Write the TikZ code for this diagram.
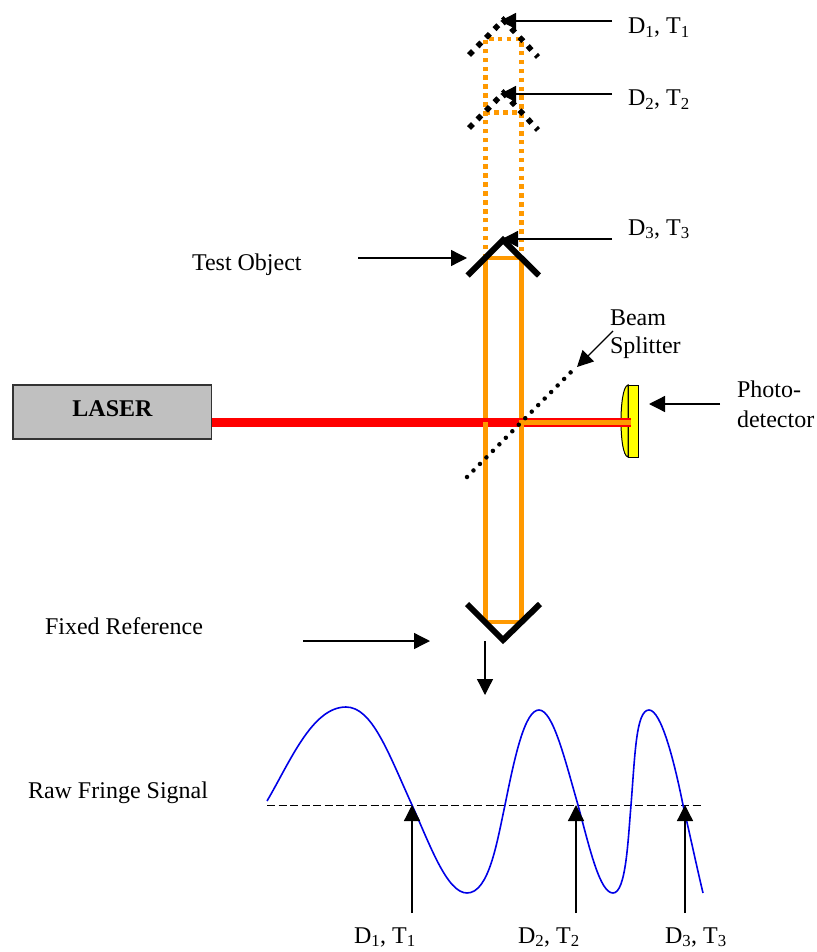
\documentclass[tikz,border=0pt]{standalone}
\usepackage{fontspec}
\setmainfont{Liberation Serif}
\usetikzlibrary{arrows.meta}
\definecolor{beamorange}{RGB}{255,153,0}
\definecolor{beamred}{RGB}{255,0,0}
\definecolor{lasergray}{RGB}{192,192,192}
\definecolor{detyellow}{RGB}{255,255,0}
\definecolor{signalblue}{RGB}{0,0,230}
\newcommand{\DT}[1]{D\textsubscript{#1}, T\textsubscript{#1}}
\tikzset{
  x=1pt,y=-1pt,
  lbl/.style={anchor=base west,inner sep=0pt,outer sep=0pt,font=\fontsize{24}{28}\selectfont},
  pointer/.style={draw=black,line width=1.3pt,-{Triangle[length=16pt,width=16pt]}},
  mirror/.style={draw=black,line width=6pt,line cap=butt,miter limit=10},
  mirrordot/.style={draw=black,line width=5.5pt,dash pattern=on 5.5pt off 6.6pt},
  beam/.style={draw=beamorange,line width=4.5pt},
  beamdot/.style={draw=beamorange,line width=4.5pt,dash pattern=on 4.5pt off 4.4pt},
  splitter/.style={draw=black,line width=4.5pt,line cap=round,dash pattern=on 0pt off 9.2pt},
  signal/.style={draw=signalblue,line width=1.6pt},
}
\begin{document}
\begin{tikzpicture}
\useasboundingbox (0,0) rectangle (816,952);

% beam coordinates
\coordinate (tl) at (485.5,39);
\coordinate (tr) at (521.5,39);
\coordinate (ml) at (485.5,112.5);
\coordinate (mr) at (521.5,112.5);
\coordinate (sl) at (485.5,258);
\coordinate (sr) at (521.5,258);
\coordinate (bl) at (485.5,622);
\coordinate (br) at (521.5,622);
\coordinate (cl) at (485.5,422);
\coordinate (cr) at (521.5,422);

% dotted beam paths
\draw[beamdot] (sl) -- (tl) -- (tr) -- (sr);
\draw[beamdot] (ml) -- (mr);

% solid beam above laser line
\draw[beam] (cl) -- (sl) -- (sr) -- (cr);

% laser box
\node[draw=black!80,line width=1.5pt,fill=lasergray,minimum width=198.5pt,minimum height=54pt,inner sep=0pt] (laser) at (112,412) {};
\node[inner sep=0pt,font=\fontsize{24}{28}\selectfont\bfseries,anchor=base] (lasertext) at (112.5,416) {LASER};

% detector
\coordinate (dettip) at (631,422);
\filldraw[fill=detyellow,draw=black,line width=1pt] (628,385) rectangle (638.7,457);
\filldraw[fill=detyellow,draw=black,line width=1pt] (628,385) .. controls (623,386) and (621,405) .. (621,421) .. controls (621,438) and (623,456) .. (628,457) -- cycle;

% laser beam
\draw[draw=beamred,line width=9pt] (laser.east |- dettip) -- (dettip);
\draw[draw=beamorange,line width=5pt] (519,422) -- (dettip);

% solid beam below laser line
\draw[beam] (cl) -- (bl) -- (br) -- (cr);

% splitter
\coordinate (s1) at (467,477);
\coordinate (s2) at (571,372);
\draw[splitter] (s1) -- (s2);

% mirrors
\draw[mirrordot] (469,55) -- (503.5,20) -- (538,57);
\draw[mirrordot] (469,128) -- (503.5,93) -- (538,130);
\draw[mirror] (467.5,275.5) -- (503,240) -- (539,275.5);
\draw[mirror] (467,604) -- (503,640) -- (540,604);

% labels
\node[lbl] (d1) at (628,34) {\DT{1}};
\node[lbl] (d2) at (628,106) {\DT{2}};
\node[lbl] (d3) at (628,235) {\DT{3}};
\node[lbl] (test) at (192,270) {Test Object};
\node[lbl] (beam1) at (610,325) {Beam};
\node[lbl] (beam2) at (610,353) {Splitter};
\node[lbl] (photo1) at (737,397) {Photo-};
\node[lbl] (photo2) at (737,427) {detector};
\node[lbl] (fixed) at (45,634) {Fixed Reference};
\node[lbl] (raw) at (28,798) {Raw Fringe Signal};
\node[lbl] (b1) at (354,943) {\DT{1}};
\node[lbl] (b2) at (518,943) {\DT{2}};
\node[lbl] (b3) at (665,943) {\DT{3}};

% arrow ends
\coordinate (a1s) at (612,21);   \coordinate (a1e) at (500,21);
\coordinate (a2s) at (612,94);   \coordinate (a2e) at (500,94);
\coordinate (a3s) at (612,239);\coordinate (a3e) at (502,239);
\coordinate (ats) at (358,258);  \coordinate (ate) at (467,258);
\coordinate (abs) at (613,331);  \coordinate (abe) at (577,367);
\coordinate (aps) at (720,404);  \coordinate (ape) at (649,404);
\coordinate (afs) at (303,641);  \coordinate (afe) at (430,641);
\coordinate (ads) at (485,641);  \coordinate (ade) at (485,695);
\coordinate (u1s) at (412,913);  \coordinate (u1e) at (412,805);
\coordinate (u2s) at (576,913);  \coordinate (u2e) at (576,805);
\coordinate (u3s) at (685,913);  \coordinate (u3e) at (685,805);
\draw[pointer] (a1s) -- (a1e);
\draw[pointer] (a2s) -- (a2e);
\draw[pointer] (a3s) -- (a3e);
\draw[pointer] (ats) -- (ate);
\draw[pointer] (abs) -- (abe);
\draw[pointer] (aps) -- (ape);
\draw[pointer] (afs) -- (afe);
\draw[pointer] (ads) -- (ade);

% signal
\coordinate (d0) at (267,805);
\coordinate (d9) at (701,805);
\draw[draw=black,line width=1pt,dash pattern=on 8pt off 3.5pt] (d0) -- (d9);
\draw[signal] (267,801)
  .. controls (290,762) and (312,707) .. (346,707)
  .. controls (372,707) and (388,752) .. (412,805)
  .. controls (430,845) and (447,893) .. (467,893)
  .. controls (489,893) and (497,842) .. (505,805)
  .. controls (515,755) and (525,710) .. (539,710)
  .. controls (553,710) and (565,760) .. (578,805)
  .. controls (590,850) and (600,893) .. (613,893)
  .. controls (626,893) and (628,840) .. (631,805)
  .. controls (635,755) and (636,710) .. (649,710)
  .. controls (661,710) and (674,760) .. (683,805)
  .. controls (690,835) and (697,868) .. (703,893);
\draw[pointer] (u1s) -- (u1e);
\draw[pointer] (u2s) -- (u2e);
\draw[pointer] (u3s) -- (u3e);
\end{tikzpicture}
\end{document}
